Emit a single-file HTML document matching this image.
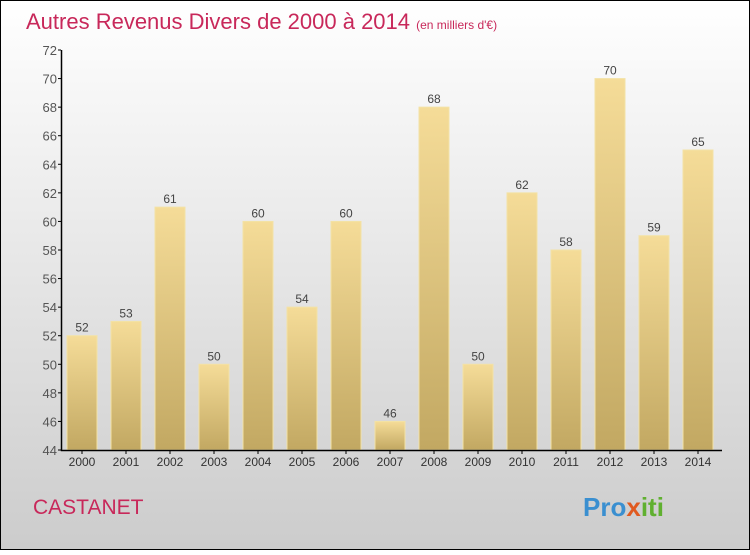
<!DOCTYPE html>
<html><head><meta charset="utf-8"><style>
body{margin:0}
#c{width:750px;height:550px;position:relative;font-family:"Liberation Sans",sans-serif}
</style></head><body>
<div id="c">
<svg id="s" width="750" height="550" xmlns="http://www.w3.org/2000/svg">
<defs>
<linearGradient id="bg" x1="0" y1="0" x2="0" y2="1"><stop offset="0" stop-color="#ffffff"/><stop offset="1" stop-color="#cccccc"/></linearGradient>
<linearGradient id="bar" x1="0" y1="0" x2="0" y2="1"><stop offset="0" stop-color="#f5dc98"/><stop offset="1" stop-color="#c2a862"/></linearGradient>
</defs>
<rect x="0.5" y="0.5" width="749" height="549" fill="url(#bg)" stroke="#000"/>
<text x="26" y="29" font-size="22" fill="#c8285a">Autres Revenus Divers de 2000 à 2014 <tspan font-size="12">(en milliers d'€)</tspan></text>
<text x="33" y="514" font-size="21" fill="#c8285a">CASTANET</text>
<text x="583" y="516" font-size="26" font-weight="bold" fill="#3a8fd0">Pro<tspan fill="#e05a20">x</tspan><tspan fill="#60b030">iti</tspan></text>
<g id="g"></g>
</svg>
</div>
<script>
const years=["2000","2001","2002","2003","2004","2005","2006","2007","2008","2009","2010","2011","2012","2013","2014"];
const values=[52,53,61,50,60,54,60,46,68,50,62,58,70,59,65];
const ticks=[44,46,48,50,52,54,56,58,60,62,64,66,68,70,72];
const NS="http://www.w3.org/2000/svg",g=document.getElementById("g");
const y=v=>450-(v-44)*400/28, x=i=>82+i*44;
function mk(t,a){const e=document.createElementNS(NS,t);for(const k in a)e.setAttribute(k,a[k]);g.appendChild(e);return e;}
years.forEach((yr,i)=>{
 const r=mk("rect",{x:x(i)-15,y:y(values[i]),width:30,height:450-y(values[i]),fill:"url(#bar)",stroke:"#f3e2a6","stroke-width":1});
 
 
 const t=mk("text",{x:x(i),y:y(values[i])-4,"font-size":12,fill:"#444","text-anchor":"middle"});t.textContent=values[i];
 
 
 const l=mk("text",{x:x(i),y:466,"font-size":12,fill:"#333","text-anchor":"middle"});l.textContent=yr;
 
 
 mk("line",{x1:x(i),x2:x(i),y1:450,y2:454,stroke:"#000"});
});
ticks.forEach(v=>{
 const t=mk("text",{x:57,y:y(v)+5,"font-size":13,fill:"#555","text-anchor":"end"});t.textContent=v;
 
 
 mk("line",{x1:58,x2:61,y1:y(v),y2:y(v),stroke:"#000"});
});
const ax=mk("path",{d:"M61.5 50V450.5H722",stroke:"#000",fill:"none","stroke-width":1.5});


</script>
</body></html>
